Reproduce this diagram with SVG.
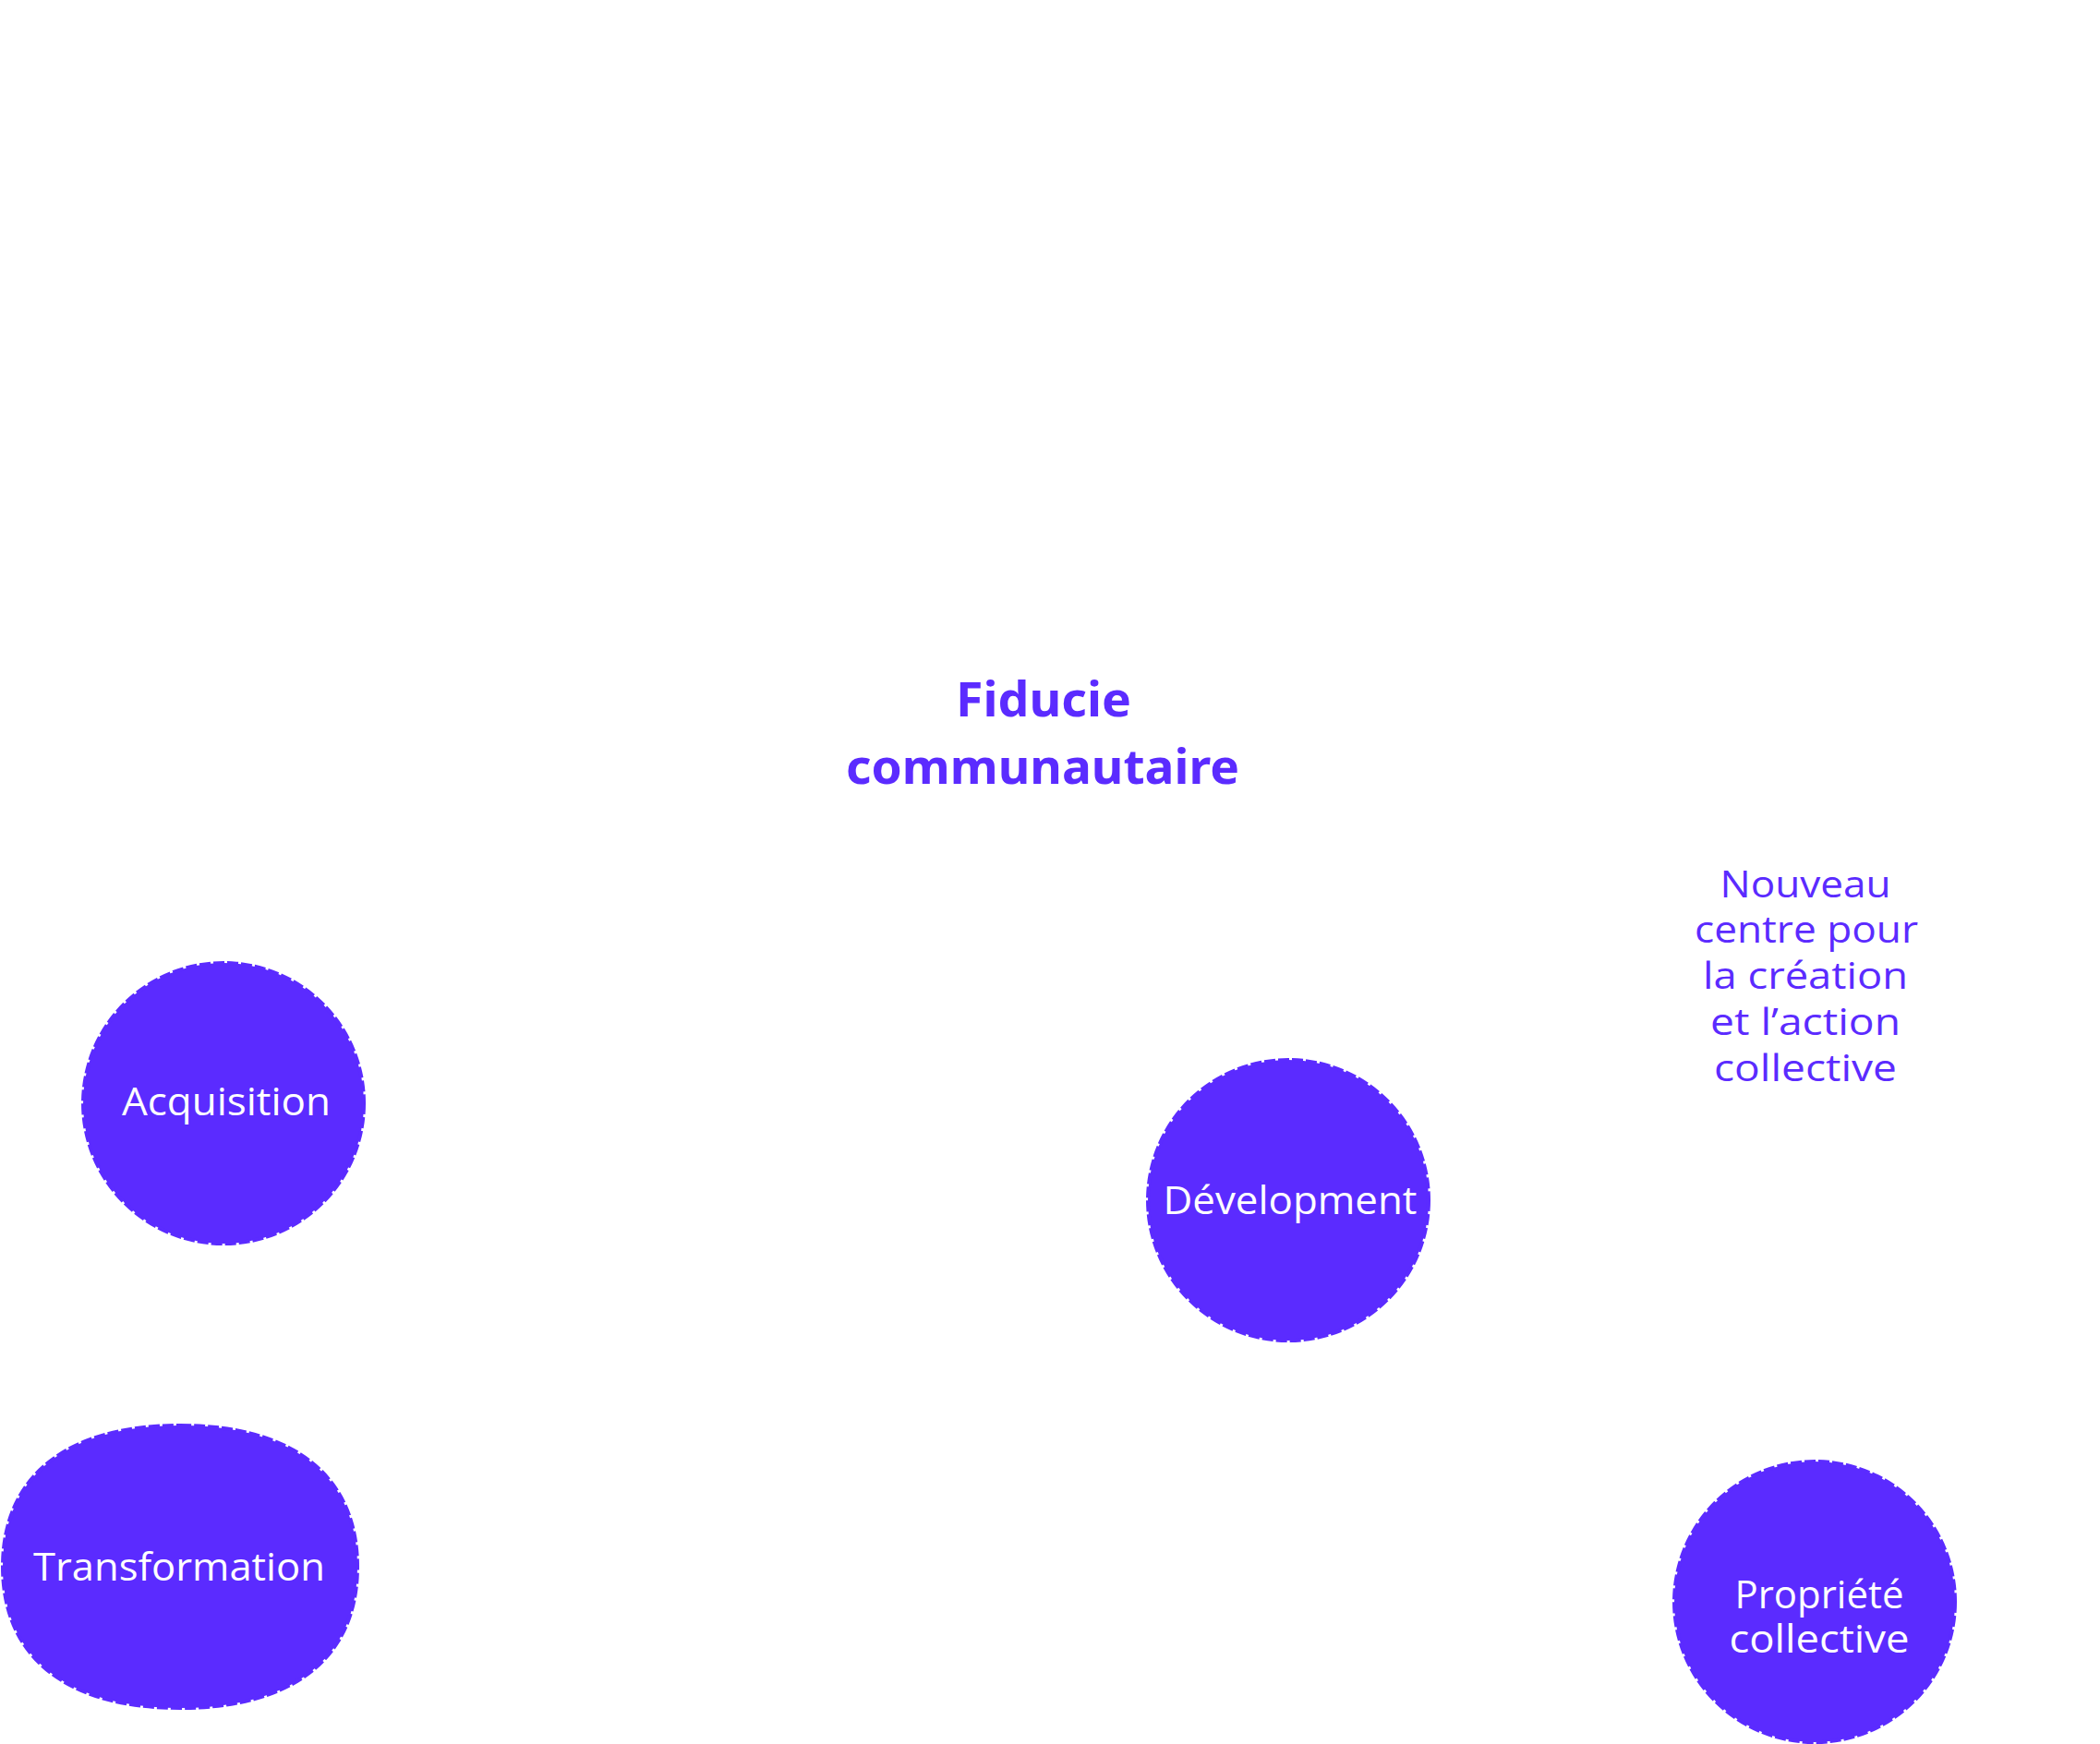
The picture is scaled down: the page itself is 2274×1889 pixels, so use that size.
<svg xmlns="http://www.w3.org/2000/svg" width="2274" height="1889" viewBox="0 0 2274 1889">
<style>
.node{fill:#5b2bff;stroke:#5b2bff;stroke-width:4;stroke-dasharray:12 3}
.lbl{font-family:"Open Sans","Liberation Sans",sans-serif;font-size:42px;fill:#ffffff;text-anchor:middle}
.title{font-family:"Noto Sans","Liberation Sans",sans-serif;font-weight:700;font-size:52px;fill:#5b2bff;text-anchor:middle}
.note{font-family:"Open Sans","Liberation Sans",sans-serif;font-weight:500;font-size:41px;fill:#5b2bff;text-anchor:middle}
</style>
<rect width="2274" height="1889" fill="#ffffff"/>
<g id="connectors"/>
<g id="title">
<text class="title" x="1130" y="776" textLength="190" lengthAdjust="spacingAndGlyphs">Fiducie</text>
<text class="title" x="1129" y="849" textLength="426" lengthAdjust="spacingAndGlyphs">communautaire</text>
</g>
<g id="note">
<text class="note" x="1955" y="972" textLength="185" lengthAdjust="spacingAndGlyphs">Nouveau</text>
<text class="note" x="1956" y="1021" textLength="242" lengthAdjust="spacingAndGlyphs">centre pour</text>
<text class="note" x="1955" y="1071" textLength="222" lengthAdjust="spacingAndGlyphs">la création</text>
<text class="note" x="1955" y="1121" textLength="206" lengthAdjust="spacingAndGlyphs">et l’action</text>
<text class="note" x="1955" y="1171" textLength="198" lengthAdjust="spacingAndGlyphs">collective</text>
</g>
<g id="acquisition">
<circle class="node" cx="242" cy="1195" r="152"/>
<text class="lbl" x="245" y="1208" textLength="226" lengthAdjust="spacingAndGlyphs">Acquisition</text>
</g>
<g id="transformation">
<path class="node" d="M195,1544 C318,1544 387,1599 387,1697 C387,1795 318,1850 195,1850 C72,1850 3,1795 3,1697 C3,1599 72,1544 195,1544 Z"/>
<text class="lbl" x="194" y="1712" textLength="316" lengthAdjust="spacingAndGlyphs">Transformation</text>
</g>
<g id="developpement">
<circle class="node" cx="1395" cy="1300" r="152"/>
<text class="lbl" x="1397" y="1315" textLength="275" lengthAdjust="spacingAndGlyphs">Dévelopment</text>
</g>
<g id="propriete">
<circle class="node" cx="1965" cy="1735" r="152"/>
<text class="lbl" x="1970" y="1742" textLength="183" lengthAdjust="spacingAndGlyphs">Propriété</text>
<text class="lbl" x="1970" y="1790" textLength="195" lengthAdjust="spacingAndGlyphs">collective</text>
</g>
</svg>
